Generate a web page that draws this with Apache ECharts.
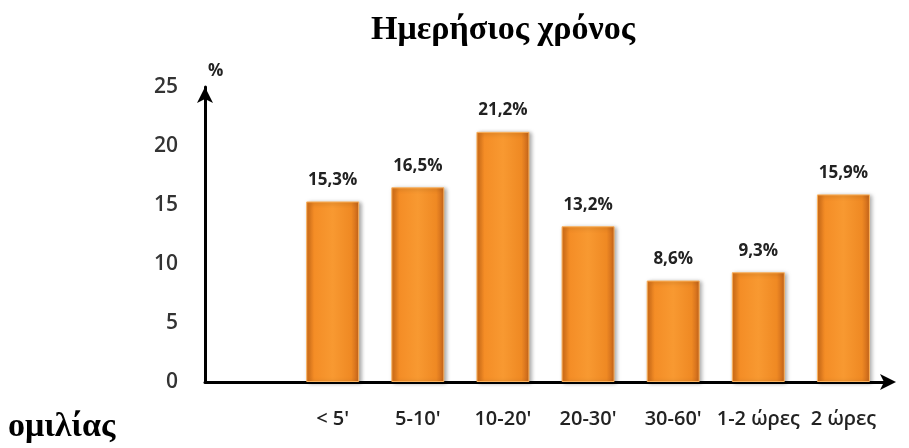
<!DOCTYPE html>
<html>
<head>
<meta charset="utf-8">
<script src="https://cdn.jsdelivr.net/npm/echarts@6/dist/echarts.min.js"></script>
<style>
html,body{margin:0;padding:0;background:#fff;}
#chart{width:909px;height:448px;}
</style>
</head>
<body>
<div id="chart"></div>
<script>
// κατηγορίες (η πρώτη είναι κενή, όπως στο πρωτότυπο)
var categories = ['', "< 5'", "5-10'", "10-20'", "20-30'", "30-60'", '1-2 ώρες', '2 ώρες'];
var values = [null, 15.3, 16.5, 21.2, 13.2, 8.6, 9.3, 15.9];
var yTicks = [0, 5, 10, 15, 20, 25];

var chart = echarts.init(document.getElementById('chart'));
chart.setOption({
	animation: false,
	title: [{
		text: 'Ημερήσιος χρόνος',
		left: 498,
		textAlign: 'center',
		top: 8,
		textStyle: {fontFamily: 'Liberation Serif', fontWeight: 'bold', fontSize: 34, color: '#000'}
	}, {
		text: 'ομιλίας',
		left: 3,
		top: 405,
		textStyle: {fontFamily: 'Liberation Serif', fontWeight: 'bold', fontSize: 34, color: '#000'}
	}, {
		text: '%',
		left: 203,
		top: 58,
		textStyle: {fontFamily: 'Open Sans', fontWeight: 'bold', fontSize: 17, color: '#222'}
	}],
	grid: {left: 205, right: 23, top: 87, bottom: 66},
	xAxis: {
		type: 'category',
		data: categories,
		axisTick: {show: false},
		axisLine: {
			lineStyle: {color: '#000', width: 3},
			symbol: ['none', 'arrow'],
			symbolSize: [12, 16],
			symbolOffset: [0, 10]
		},
		axisLabel: {
			interval: 0,
			margin: 27,
			fontFamily: 'Open Sans',
			fontWeight: 600,
			fontSize: 20,
			color: '#222'
		}
	},
	yAxis: {
		type: 'value',
		min: yTicks[0],
		max: yTicks[yTicks.length - 1],
		interval: 5,
		splitLine: {show: false},
		axisTick: {show: false},
		axisLine: {
			show: true,
			lineStyle: {color: '#000', width: 3},
			symbol: ['none', 'arrow'],
			symbolSize: [12, 16]
		},
		axisLabel: {
			margin: 27,
			fontFamily: 'Open Sans',
			fontWeight: 600,
			fontSize: 21,
			color: '#333'
		}
	},
	series: [{
		type: 'bar',
		data: values,
		barWidth: 53,
		itemStyle: {
			color: new echarts.graphic.LinearGradient(0, 0, 1, 0, [
				{offset: 0, color: '#d46e18'},
				{offset: 0.15, color: '#f48d26'},
				{offset: 0.5, color: '#f89931'},
				{offset: 0.85, color: '#ef8923'},
				{offset: 1, color: '#c4631a'}
			]),
			borderColor: '#fbb25e',
			borderWidth: 1,
			shadowColor: 'rgba(0,0,0,0.35)',
			shadowBlur: 4,
			shadowOffsetX: 2,
			shadowOffsetY: 1
		},
		label: {
			show: true,
			position: 'top',
			distance: 13,
			fontFamily: 'Open Sans',
			fontWeight: 'bold',
			fontSize: 17,
			color: '#222',
			formatter: function (p) {
				return String(p.value).replace('.', ',') + '%';
			}
		}
	}]
});
</script>
</body>
</html>
